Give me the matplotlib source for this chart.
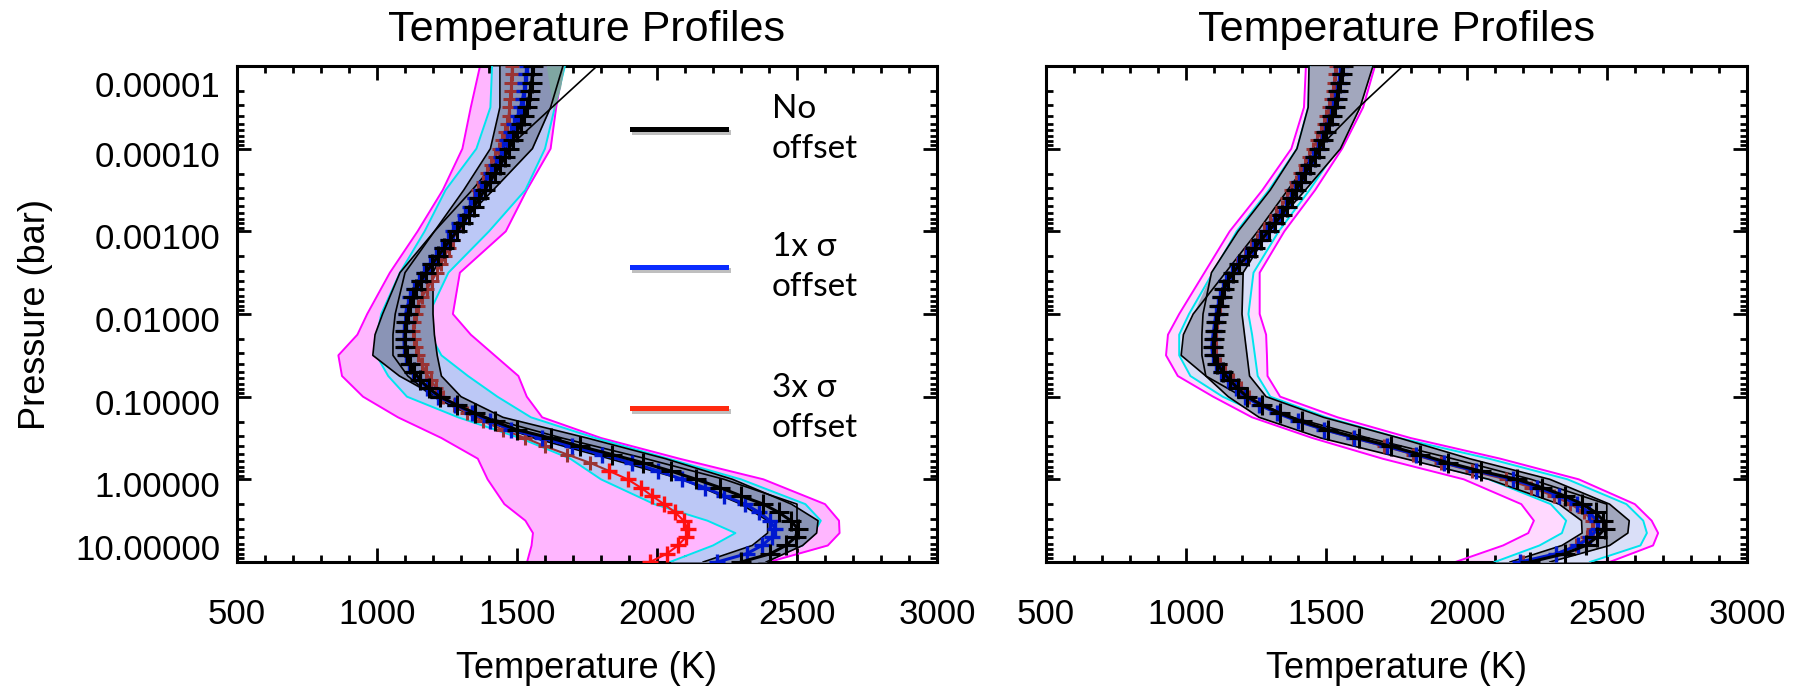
import numpy as np
import matplotlib
matplotlib.use("Agg")
import matplotlib.pyplot as plt
import matplotlib.patheffects as pe
import matplotlib.transforms as mtransforms
from matplotlib.lines import Line2D
from matplotlib.ticker import LogLocator, MultipleLocator, NullFormatter

plt.rcParams['font.family'] = ['Liberation Sans', 'DejaVu Sans']

# pressure levels (log10 bar) of the median profiles, one marker per level
logp_med = np.round(np.arange(-5.0, 1.001, 0.1), 1)
# pressure levels of the confidence envelopes
logp_band = [-5, -4.5, -4, -3.5, -3, -2.5, -2, -1.75, -1.5, -1.25, -1, -0.75, -0.5, -0.25, 0, 0.3, 0.5, 0.65, 0.8, 1]

# ---------------- left panel ----------------
black_l = [1557, 1555, 1552, 1548, 1542, 1535, 1525, 1513, 1500, 1486, 1472, 1457, 1440, 1422, 1403,
           1385, 1366, 1347, 1328, 1307, 1285, 1262, 1240, 1218, 1196, 1175, 1157, 1140, 1127, 1117,
           1110, 1105, 1101, 1100, 1101, 1106, 1117, 1133, 1155, 1185, 1225, 1285, 1350, 1420, 1500,
           1620, 1725, 1840, 1950, 2050, 2140, 2225, 2300, 2380, 2435, 2478, 2503, 2495, 2460, 2405, 2300]
blue_l = [1535, 1533, 1530, 1526, 1520, 1513, 1503, 1491, 1478, 1464, 1450, 1442, 1425, 1407, 1388,
          1370, 1351, 1332, 1313, 1292, 1270, 1254, 1232, 1210, 1188, 1167, 1149, 1132, 1119, 1109,
          1102, 1102, 1098, 1097, 1098, 1103, 1114, 1130, 1152, 1180, 1218, 1280, 1340, 1405, 1480,
          1590, 1695, 1805, 1910, 2005, 2090, 2170, 2240, 2315, 2365, 2403, 2423, 2410, 2375, 2320, 2215]
red_l = [1482, 1481, 1480, 1478, 1476, 1473, 1470, 1465, 1458, 1448, 1437, 1423, 1408, 1393, 1377,
         1362, 1346, 1331, 1316, 1301, 1286, 1271, 1257, 1243, 1229, 1213, 1196, 1178, 1160, 1147,
         1138, 1131, 1129, 1132, 1139, 1148, 1160, 1174, 1192, 1212, 1236, 1275, 1321, 1380, 1450,
         1530, 1600, 1680, 1760, 1830, 1895, 1942, 1982, 2025, 2065, 2095, 2110, 2103, 2075, 2035, 1975]

mag_lo_l = [1368, 1335, 1305, 1235, 1145, 1046, 965, 930, 862, 875, 950, 1075, 1230, 1360, 1395, 1455, 1530, 1557, 1552, 1536]
mag_hi_l = [1665, 1640, 1620, 1535, 1460, 1296, 1271, 1335, 1420, 1505, 1535, 1590, 1800, 2080, 2380, 2600, 2650, 2652, 2610, 2400]
cyan_lo_l = [1411, 1405, 1355, 1245, 1170, 1082, 1015, 1000, 998, 1040, 1107, 1290, 1510, 1690, 1800, 1990, 2180, 2280, 2200, 2046]
cyan_hi_l = [1671, 1635, 1600, 1530, 1400, 1255, 1185, 1190, 1230, 1325, 1430, 1550, 1780, 2040, 2300, 2530, 2585, 2560, 2520, 2357]
dark_lo_l = [1439, 1439, 1405, 1310, 1205, 1100, 1065, 1057, 1057, 1110, 1200, 1350, 1560, 1830, 2090, 2300, 2395, 2395, 2340, 2165]
dark_hi_l = [1664, 1620, 1555, 1415, 1270, 1200, 1200, 1205, 1215, 1230, 1300, 1450, 1750, 2030, 2270, 2480, 2575, 2570, 2520, 2390]
ref_l = [1786, 1625, 1465, 1340, 1205, 1082, 1020, 993, 985, 1080, 1215, 1390, 1660, 1960, 2240, 2500, 2500, 2500, 2500, 2500]
# small greenish overlap patch at the top right of the left envelope
teal_logp = [-5, -4.75, -4.45]
teal_lo = [1605, 1616, 1632]
teal_hi = [1668, 1656, 1632]

# ---------------- right panel ----------------
black_r = [1558, 1554, 1550, 1543, 1537, 1530, 1521, 1511, 1500, 1488, 1474, 1458, 1442, 1425, 1409,
           1393, 1377, 1361, 1340, 1318, 1294, 1268, 1245, 1219, 1190, 1168, 1148, 1135, 1126, 1118,
           1112, 1107, 1103, 1099, 1096, 1100, 1111, 1130, 1156, 1184, 1217, 1270, 1335, 1412, 1505,
           1615, 1730, 1835, 1935, 2050, 2180, 2270, 2350, 2413, 2460, 2488, 2492, 2465, 2425, 2350, 2226]
blue_r = [1553, 1549, 1545, 1538, 1532, 1525, 1516, 1506, 1495, 1483, 1469, 1453, 1437, 1420, 1404,
          1388, 1372, 1356, 1335, 1313, 1289, 1263, 1240, 1214, 1185, 1163, 1143, 1130, 1121, 1113,
          1107, 1102, 1098, 1094, 1091, 1095, 1106, 1125, 1150, 1178, 1210, 1260, 1325, 1400, 1493,
          1600, 1715, 1820, 1920, 2035, 2165, 2252, 2330, 2393, 2438, 2465, 2468, 2440, 2398, 2320, 2190]
red_r = [1535, 1532, 1528, 1522, 1516, 1509, 1500, 1490, 1479, 1467, 1453, 1438, 1422, 1406, 1390,
         1374, 1358, 1342, 1322, 1300, 1278, 1254, 1232, 1208, 1182, 1162, 1145, 1134, 1126, 1120,
         1115, 1111, 1108, 1105, 1104, 1108, 1120, 1140, 1166, 1194, 1225, 1272, 1330, 1400, 1490,
         1595, 1705, 1810, 1910, 2020, 2140, 2230, 2310, 2370, 2420, 2448, 2452, 2430, 2390, 2320, 2200]

mag_lo_r = [1427, 1420, 1375, 1272, 1155, 1065, 975, 935, 928, 970, 1096, 1235, 1450, 1700, 1990, 2195, 2240, 2220, 2130, 1960]
mag_hi_r = [1673, 1631, 1556, 1460, 1350, 1262, 1262, 1285, 1288, 1290, 1335, 1540, 1800, 2120, 2400, 2600, 2660, 2683, 2665, 2510]
cyan_lo_r = [1440, 1435, 1395, 1295, 1180, 1095, 1010, 975, 975, 1015, 1130, 1290, 1520, 1790, 2080, 2300, 2355, 2340, 2260, 2100]
cyan_hi_r = [1662, 1618, 1540, 1440, 1330, 1240, 1222, 1235, 1245, 1255, 1300, 1500, 1760, 2080, 2360, 2570, 2630, 2643, 2620, 2440]
dark_lo_r = [1438, 1435, 1395, 1300, 1185, 1090, 1060, 1056, 1056, 1070, 1150, 1260, 1480, 1780, 2080, 2330, 2410, 2412, 2340, 2155]
dark_hi_r = [1666, 1620, 1550, 1425, 1295, 1203, 1199, 1208, 1217, 1226, 1285, 1490, 1760, 2010, 2297, 2510, 2580, 2575, 2510, 2297]
ref_r = [1773, 1615, 1470, 1362, 1255, 1140, 1025, 990, 982, 1070, 1200, 1380, 1650, 1950, 2230, 2500, 2500, 2500, 2500, 2500]

y_ticks = [1e-5, 1e-4, 1e-3, 1e-2, 1e-1, 1, 10]
y_ticklabels = ['0.00001', '0.00010', '0.00100', '0.01000', '0.10000', '1.00000', '10.00000']
x_ticks = [500, 1000, 1500, 2000, 2500, 3000]

legend_labels = ['No\noffset', '1x σ\noffset', '3x σ\noffset']
legend_colors = ['black', '#0a2cff', '#ff2a10']

W, H = 1798, 686
fig = plt.figure(figsize=(W / 100, H / 100), dpi=100)
ax1 = fig.add_axes([237 / W, 1 - 562 / H, 700 / W, 496 / H])
ax2 = fig.add_axes([1046 / W, 1 - 562 / H, 701 / W, 496 / H])

pb = 10.0 ** np.array(logp_band)
pm = 10.0 ** logp_med


def draw_panel(ax, mlo, mhi, clo, chi, dlo, dhi, ref, blk, blu, red, light, red_split):
    pink, lblue, slate = light
    ax.fill_betweenx(pb, mlo, mhi, color=pink, lw=0, zorder=1)
    ax.plot(mlo, pb, color='#ff00ff', lw=1.4, zorder=2)
    ax.plot(mhi, pb, color='#ff00ff', lw=1.4, zorder=2)
    ax.fill_betweenx(pb, clo, chi, color=lblue, lw=0, zorder=3)
    ax.plot(clo, pb, color='#00e5ee', lw=1.4, zorder=4)
    ax.plot(chi, pb, color='#00e5ee', lw=1.4, zorder=4)
    ax.fill_betweenx(pb, np.minimum(dlo, ref), dhi, color=slate, lw=0, zorder=5)
    ax.plot(dlo, pb, color='black', lw=1.2, zorder=6)
    ax.plot(dhi, pb, color='black', lw=1.2, zorder=6)
    ax.plot(ref, pb, color='black', lw=1.2, zorder=6)

    red = np.array(red)
    up = logp_med <= red_split
    ax.plot(red[up], pm[up], color='#9a3434', lw=1.5, marker='+', ms=10, mew=2.2, zorder=7)
    if (~up).any():
        lo = logp_med >= red_split
        ax.plot(red[lo], pm[lo], color='#ff1010', lw=1.5, marker='+', ms=11, mew=2.4, zorder=7)
    ax.plot(blu, pm, color='#0018d0', lw=2.2, marker='+', ms=12, mew=2.4, zorder=8)
    ax.plot(blk, pm, color='black', lw=2.2, marker='+', ms=14, mew=2.2, zorder=9)

    ax.set_yscale('log')
    ax.set_ylim(10, 1e-5)
    ax.set_xlim(500, 3000)
    ax.set_xticks(x_ticks)
    ax.xaxis.set_minor_locator(MultipleLocator(100))
    ax.set_yticks(y_ticks)
    ax.set_yticklabels(y_ticklabels)
    ax.yaxis.set_minor_locator(LogLocator(base=10, subs=np.arange(2, 10)))
    ax.yaxis.set_minor_formatter(NullFormatter())
    ax.tick_params(which='both', direction='in', top=True, right=True, width=2.0, labelsize=25)
    ax.tick_params(which='major', length=10)
    ax.tick_params(which='minor', length=5)
    ax.tick_params(axis='x', pad=26)
    ax.tick_params(axis='y', pad=12)
    for s in ax.spines.values():
        s.set_linewidth(2.2)
    ax.set_xlabel('Temperature (K)', fontsize=26, labelpad=14)
    ax.set_title('Temperature Profiles', fontsize=31, pad=18)


draw_panel(ax1, mag_lo_l, mag_hi_l, cyan_lo_l, cyan_hi_l, dark_lo_l, dark_hi_l, ref_l,
           black_l, blue_l, red_l, ('#ffb6ff', '#bcc8f6', '#8a94b6'), -0.1)
ax1.fill_betweenx(10.0 ** np.array(teal_logp), teal_lo, teal_hi, color='#7fa6a2', lw=0, zorder=5.5)
draw_panel(ax2, mag_lo_r, mag_hi_r, cyan_lo_r, cyan_hi_r, dark_lo_r, dark_hi_r, ref_r,
           black_r, blue_r, red_r, ('#ffd9ff', '#dadff8', '#a2a7bd'), 2.0)
ax2.tick_params(axis='y', labelleft=False)

# y tick labels sit a little below their ticks, the end ones tucked inside
shift = mtransforms.ScaledTranslation(0, -5 / 100, fig.dpi_scale_trans)
labs = ax1.get_yticklabels()
for lab in labs:
    lab.set_transform(lab.get_transform() + shift)
labs[0].set_va('top')
labs[-1].set_va('bottom')

fig.text(36 / W, 1 - 315 / H, 'Pressure (bar)', rotation=90, ha='center', va='center', fontsize=26)

# hand-drawn style legend inside the left panel
ys = [129, 267, 408]
for lab, col, y in zip(legend_labels, legend_colors, ys):
    ln = Line2D([632 / W, 726 / W], [1 - y / H, 1 - y / H], color=col, lw=3.6,
                transform=fig.transFigure, zorder=20,
                path_effects=[pe.SimpleLineShadow(offset=(1.5, -2), shadow_color='gray', alpha=0.5), pe.Normal()])
    fig.add_artist(ln)
    fig.text(772 / W, 1 - y / H, lab, ha='left', va='center', fontsize=24, linespacing=1.4,
             family=['Lato', 'DejaVu Sans'], zorder=20)

fig.savefig('out.png', dpi=100)
